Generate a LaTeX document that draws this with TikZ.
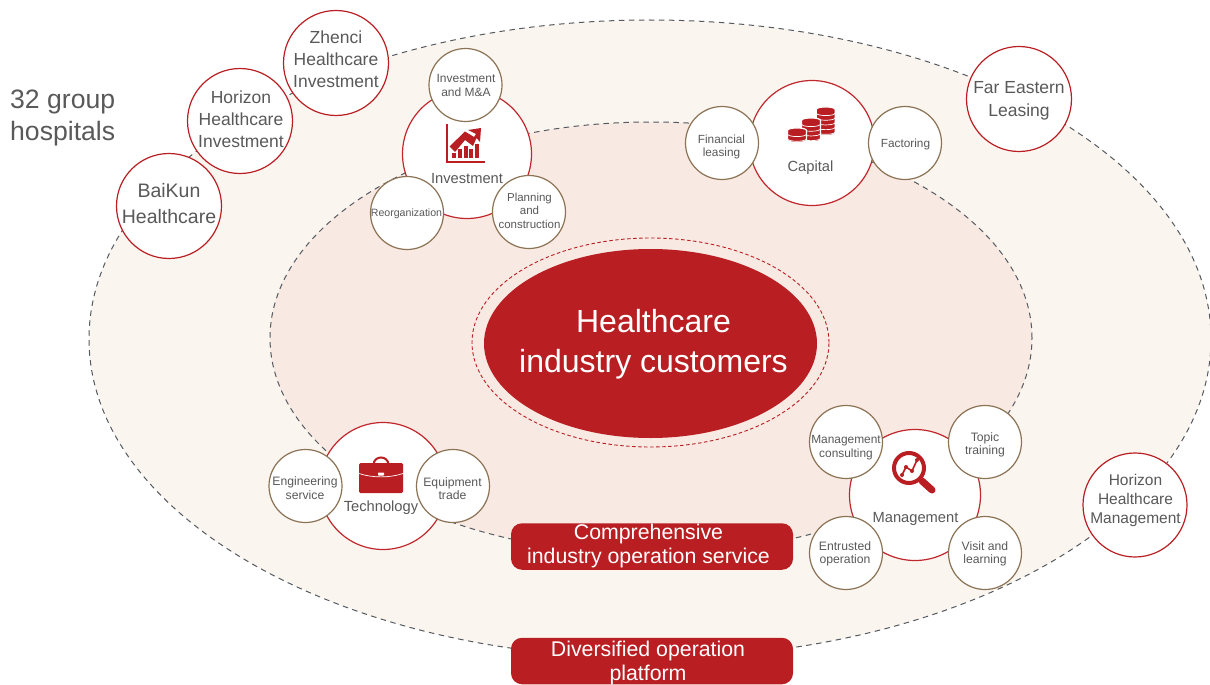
\documentclass[tikz,border=0pt]{standalone}
\usepackage{fontspec}
\setmainfont{Liberation Sans}
\usetikzlibrary{shapes.geometric}
\definecolor{brick}{HTML}{B91E22}
\definecolor{ringred}{HTML}{C0282D}
\definecolor{tan}{HTML}{8C7355}
\definecolor{txt}{HTML}{595959}
\definecolor{outerfill}{HTML}{FBF5EF}
\definecolor{innerfill}{HTML}{F8E9E2}
\definecolor{dashgrey}{HTML}{555A60}
\newcommand{\fs}[2]{\fontsize{#1}{#2}\selectfont}
\tikzset{
 x=1pt,y=-1pt,
 oval/.style={ellipse,inner sep=0pt,outer sep=0pt},
 dashring/.style={oval,draw=dashgrey,line width=1pt,dash pattern=on 5.5pt off 4.5pt},
 hub/.style={circle,draw=ringred,fill=white,line width=1.2pt,minimum size=#1,inner sep=0pt},
 sub/.style={circle,draw=tan,fill=white,line width=1.2pt,minimum size=73pt,inner sep=0pt},
 client/.style={circle,draw=brick,fill=white,line width=1.2pt,minimum size=105pt,inner sep=0pt},
 pill/.style={rectangle,rounded corners=11pt,fill=brick,minimum width=282pt,minimum height=46.5pt,inner sep=0pt},
 ctext/.style={text=txt,align=center,inner sep=0pt,font=\fs{17.5}{22}},
 stext/.style={text=txt,align=center,inner sep=0pt,font=\fs{12.2}{13.6}},
 ptext/.style={text=white,align=center,inner sep=0pt,font=\fs{21.3}{24}},
 hubtext/.style={text=txt,inner sep=0pt,font=\fs{14.7}{18}},
 icon/.style={fill=brick,draw=none},
}
% #1 centre x, #2 y of top face centre, #3 number of coins
\newcommand{\coinstack}[3]{%
  \pgfmathsetmacro{\yb}{#2+#3*4.7}
  \draw[white,line width=1.2pt,fill=brick]
    (#1-9.5,#2) .. controls (#1-9.5,#2-3.4) and (#1+9.5,#2-3.4) .. (#1+9.5,#2)
    -- (#1+9.5,\yb) .. controls (#1+9.5,\yb+3.4) and (#1-9.5,\yb+3.4) .. (#1-9.5,\yb) -- cycle;
  \foreach \k in {1,...,#3}{
    \pgfmathsetmacro{\yy}{#2+\k*4.7-1.2}
    \draw[white,line width=0.7pt] (#1-9.5,\yy) .. controls (#1-9.5,\yy+3.4) and (#1+9.5,\yy+3.4) .. (#1+9.5,\yy);
  }
}
\begin{document}
\begin{tikzpicture}
\useasboundingbox (0,0) rectangle (1210,685);
\node[dashring,fill=outerfill,minimum width=1122pt,minimum height=638pt] (outer) at (650,339) {};
\node[dashring,fill=innerfill,minimum width=762pt,minimum height=432pt] (inner) at (651,338) {};
\node[oval,draw=brick,line width=0.9pt,dash pattern=on 3.5pt off 2.5pt,minimum width=357pt,minimum height=209pt] (ring) at (650.5,342.5) {};
\node[oval,fill=brick,minimum width=333pt,minimum height=189pt] (core) at (650.5,343.5) {};
\node[text=white,align=center,inner sep=0pt,font=\fs{32}{40}] (corel) at (653.5,344) {Healthcare\\industry customers};

\node[text=txt,align=left,anchor=west,inner sep=0pt,font=\fs{26.6}{32}] (groupl) at (10,118) {32 group\\hospitals};

\node[client] (zhenci) at (336,63) {};
\node[ctext] (zhencil) at (336,59) {Zhenci\\Healthcare\\Investment};
\node[client] (hzinv) at (240,121) {};
\node[ctext] (hzinvl) at (241,119) {Horizon\\Healthcare\\Investment};
\node[client] (baikun) at (169,206) {};
\node[ctext,font=\fs{19.5}{26}] (baikunl) at (169,204) {BaiKun\\Healthcare};
\node[client] (fareast) at (1019,99) {};
\node[ctext,font=\fs{17.5}{23}] (fareastl) at (1019,100.5) {Far Eastern\\Leasing};
\node[client,minimum size=104pt] (hzmgt) at (1135,505) {};
\node[ctext,font=\fs{15.5}{19}] (hzmgtl) at (1135.5,500) {Horizon\\Healthcare\\Management};

% Investment
\node[hub=129pt] (invest) at (467,154) {};
\node[hubtext] (investl) at (467,179) {Investment};
\node[sub] (ma) at (465.5,85) {};
\node[stext,font=\fs{12}{14}] (mal) at (466,85) {Investment\\and M\&A};
\node[sub] (reorg) at (407,213) {};
\node[stext,font=\fs{10.6}{14}] (reorgl) at (406.5,213.5) {Reorganization};
\node[sub] (plan) at (529,212) {};
\node[stext,font=\fs{11.5}{13.5}] (planl) at (529.5,210.5) {Planning\\and\\construction};
\fill[icon] (446,124) rectangle (447.7,162.7);
\fill[icon] (446,161) rectangle (485,162.7);
\fill[icon] (449.5,146.5) -- (465,131.5) -- (474,137) -- (476,134) -- (468,130) -- (481,128) -- (480,142) -- (476.5,138) -- (473,146) -- (465,140) -- (455,152) -- cycle;
\fill[icon] (452,153) rectangle (456,158);
\fill[icon] (458,149) rectangle (462,158);
\fill[icon] (463.5,146) rectangle (467.5,158);
\fill[icon] (469,149) rectangle (473,158);
\fill[icon] (475,143.5) rectangle (479,158);

% Capital
\node[hub=125pt] (capital) at (812,143) {};
\node[hubtext] (capitall) at (810.5,168) {Capital};
\node[sub] (finlease) at (722,143) {};
\node[stext,font=\fs{11.8}{13}] (finleasel) at (721.5,146.5) {Financial\\leasing};
\node[sub] (factor) at (905,143) {};
\node[stext,font=\fs{11.8}{13}] (factorl) at (905.5,144.5) {Factoring};
\coinstack{825.7}{109.5}{5}
\coinstack{811}{120.5}{4}
\coinstack{797}{130.5}{2}

% Technology
\node[hub=127pt] (tech) at (383,486) {};
\node[hubtext] (techl) at (381,508) {Technology};
\node[sub] (engsvc) at (305.5,486) {};
\node[stext] (engsvcl) at (305,488) {Engineering\\service};
\node[sub] (equip) at (453,486) {};
\node[stext] (equipl) at (452.5,488.5) {Equipment\\trade};
\draw[brick,line width=2pt] (373.5,465) .. controls (373.5,455) and (388.5,455) .. (388.5,465);
\fill[icon,rounded corners=1.5pt] (359,463) rectangle (403,493);
\draw[white,line width=0.7pt] (359,473.5) .. controls (372,478) and (390,478) .. (403,473.5);
\fill[white,rounded corners=0.7pt] (378,472.5) rectangle (384,475.5);

% Management
\node[hub=131pt] (mgmt) at (915,495) {};
\node[hubtext] (mgmtl) at (915.5,519) {Management};
\node[sub] (consult) at (846,442) {};
\node[stext,font=\fs{11.9}{14}] (consultl) at (846,448) {Management\\consulting};
\node[sub] (topic) at (985,442) {};
\node[stext,font=\fs{12.2}{13.4}] (topicl) at (985,445) {Topic\\training};
\node[sub] (entrust) at (846,553) {};
\node[stext,font=\fs{12.2}{13.4}] (entrustl) at (845,554) {Entrusted\\operation};
\node[sub] (visit) at (985,553) {};
\node[stext,font=\fs{12.2}{13.4}] (visitl) at (985,554) {Visit and\\learning};
\draw[brick,line width=4pt] (909,468) circle [radius=15];
\draw[brick,line width=7pt,line cap=round] (922,481) -- (932,490);
\draw[brick,line width=1.6pt] (902,475) -- (906,467) -- (912,471) -- (917,460);
\fill[brick] (902,475) circle [radius=2] (906,467) circle [radius=2] (912,471) circle [radius=2] (917,460) circle [radius=2];

\node[pill] (svc) at (652,546.5) {};
\node[ptext] (svcl) at (648.5,546) {Comprehensive\\industry operation service};
\node[pill] (plat) at (652,661) {};
\node[ptext] (platl) at (648,663) {Diversified operation\\platform};
\end{tikzpicture}
\end{document}
